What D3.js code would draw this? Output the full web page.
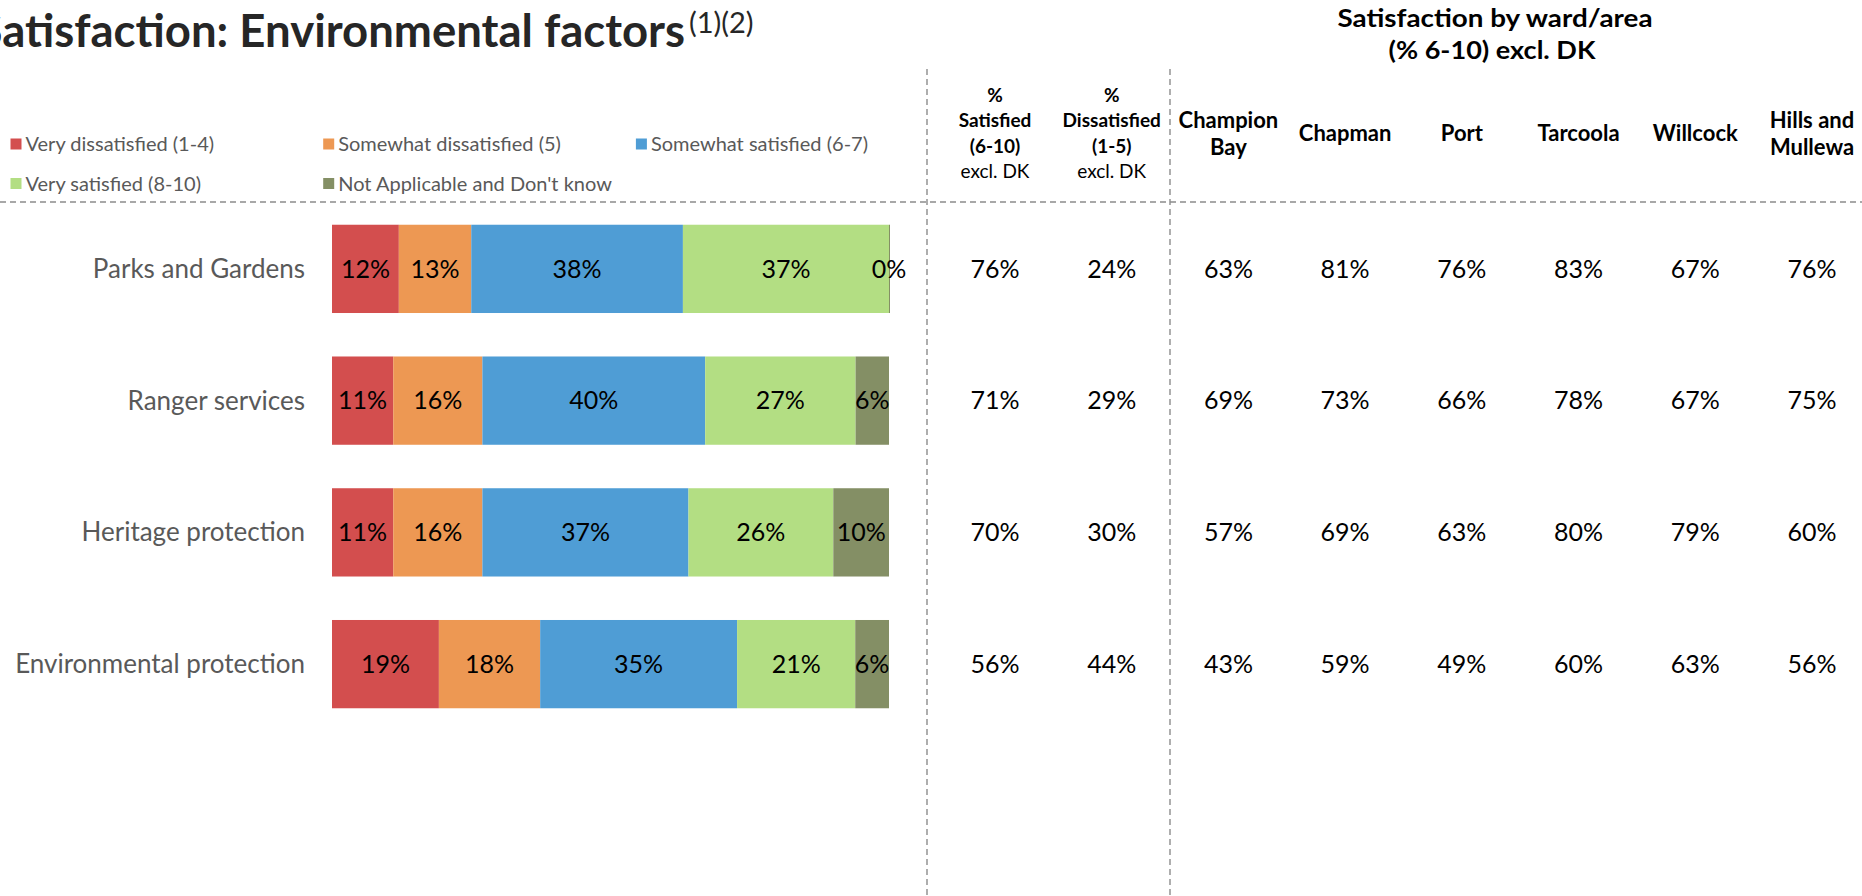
<!DOCTYPE html>
<html>
<head>
<meta charset="utf-8">
<script src="https://cdn.jsdelivr.net/npm/d3@7"></script>
<style>
  html, body { margin: 0; padding: 0; background: #fff; overflow: hidden; }
  text { font-family: Lato, "Open Sans", sans-serif; }
</style>
</head>
<body>
<svg id="chart" width="1862" height="896"></svg>
<script>
// categories (bars, top to bottom)
const categories = ['Parks and Gardens', 'Ranger services', 'Heritage protection', 'Environmental protection'];

// stacked bar series, % of respondents
const seriesNames = ['Very dissatisfied (1-4)', 'Somewhat dissatisfied (5)', 'Somewhat satisfied (6-7)', 'Very satisfied (8-10)', "Not Applicable and Don't know"];
const veryDissatisfied = [12, 11, 11, 19];
const somewhatDissatisfied = [13, 16, 16, 18];
const somewhatSatisfied = [38, 40, 37, 35];
const verySatisfied = [37, 27, 26, 21];
const notApplicable = [0, 6, 10, 6];
const seriesColors = ['#d34e4e', '#ed9853', '#4f9dd5', '#b3de83', '#848f65'];

// table columns
const pctSatisfied = [76, 71, 70, 56];
const pctDissatisfied = [24, 29, 30, 44];
const wardNames = ['Champion Bay', 'Chapman', 'Port', 'Tarcoola', 'Willcock', 'Hills and Mullewa'];
const championBay = [63, 69, 57, 43];
const chapman = [81, 73, 69, 59];
const port = [76, 66, 63, 49];
const tarcoola = [83, 78, 80, 60];
const willcock = [67, 67, 79, 63];
const hillsMullewa = [76, 75, 60, 56];

const W = 1862, H = 896;
const svg = d3.select('#chart');

// ---- build tables
const seriesArrays = [veryDissatisfied, somewhatDissatisfied, somewhatSatisfied, verySatisfied, notApplicable];
const rows = categories.map(function(c, i) {
  const r = { category: c };
  seriesNames.forEach(function(s, j) { r[s] = seriesArrays[j][i]; });
  return r;
});
const stacked = d3.stack().keys(seriesNames).offset(d3.stackOffsetExpand)(rows);

const columns = [
  { key: 'sat', head: [['%', 'bold'], ['Satisfied', 'bold'], ['(6-10)', 'bold'], ['excl. DK', 'normal']], values: pctSatisfied },
  { key: 'dis', head: [['%', 'bold'], ['Dissatisfied', 'bold'], ['(1-5)', 'bold'], ['excl. DK', 'normal']], values: pctDissatisfied }
];
[championBay, chapman, port, tarcoola, willcock, hillsMullewa].forEach(function(v, i) {
  columns.push({ key: wardNames[i], ward: true, values: v });
});

// ---- scales
const x = d3.scaleLinear().domain([0, 1]).range([332, 889]);
const y = d3.scaleBand().domain(categories).range([203, 730]).paddingInner(0.33).paddingOuter(0.165);
const colX = d3.scalePoint().domain(columns.map(function(d) { return d.key; })).range([995, 1812]);
const color = d3.scaleOrdinal().domain(seriesNames).range(seriesColors);

// ---- title (left edge runs off the page, as in the source)
svg.append('text')
  .attr('x', 685).attr('y', 47)
  .attr('text-anchor', 'end')
  .style('font-size', '45.5px').style('font-weight', 'bold').style('fill', '#262626')
  .text('Satisfaction: Environmental factors');
svg.append('text')
  .attr('x', 689).attr('y', 33)
  .style('font-size', '29px').style('fill', '#262626')
  .text('(1)(2)');

// ---- legend
const legend = svg.append('g').selectAll('g').data(seriesNames).join('g')
  .attr('transform', function(d, i) { return 'translate(' + [10.5 + (i % 3) * 312.7, 144 + Math.floor(i / 3) * 39.5] + ')'; });
legend.append('rect')
  .attr('x', 0).attr('y', -5.5).attr('width', 11).attr('height', 11)
  .style('fill', function(d) { return color(d); });
legend.append('text')
  .attr('x', 15).attr('dy', '0.35em')
  .style('font-size', '20px').style('fill', '#595959')
  .text(function(d) { return d; });

// ---- dashed rules
const rule = { stroke: '#8c8c8c', width: 1.4, dash: '6,4' };
svg.append('line')
  .attr('x1', 0).attr('x2', W).attr('y1', 202).attr('y2', 202)
  .style('stroke', rule.stroke).style('stroke-width', rule.width).style('stroke-dasharray', rule.dash);
[927, 1170].forEach(function(px) {
  svg.append('line')
    .attr('x1', px).attr('x2', px).attr('y1', 69).attr('y2', H)
    .style('stroke', rule.stroke).style('stroke-width', rule.width).style('stroke-dasharray', rule.dash);
});

// ---- category labels
svg.append('g').selectAll('text').data(categories).join('text')
  .attr('x', 305)
  .attr('y', function(d) { return y(d) + y.bandwidth() / 2; })
  .attr('dy', '0.35em')
  .attr('text-anchor', 'end')
  .style('font-size', '26px').style('fill', '#595959')
  .text(function(d) { return d; });

// ---- bars
const layer = svg.append('g').selectAll('g').data(stacked).join('g')
  .style('fill', function(d) { return color(d.key); });
layer.selectAll('rect').data(function(d) { return d; }).join('rect')
  .attr('x', function(d) { return x(d[0]); })
  .attr('y', function(d) { return y(d.data.category); })
  .attr('width', function(d) { return Math.max(x(d[1]) - x(d[0]), 1); })
  .attr('height', y.bandwidth());

// bar labels
svg.append('g').selectAll('g').data(stacked).join('g')
  .selectAll('text').data(function(s) { return s.map(function(d) { return { d: d, key: s.key }; }); }).join('text')
  .attr('x', function(o) { return (x(o.d[0]) + x(o.d[1])) / 2; })
  .attr('y', function(o) { return y(o.d.data.category) + y.bandwidth() / 2; })
  .attr('dy', '0.35em')
  .attr('text-anchor', 'middle')
  .style('font-size', '25px').style('fill', '#000')
  .text(function(o) { return o.d.data[o.key] + '%'; });

// ---- right-hand table
svg.append('text')
  .attr('x', 1495).attr('y', 27)
  .attr('text-anchor', 'middle')
  .attr('textLength', 315).attr('lengthAdjust', 'spacingAndGlyphs')
  .style('font-size', '24px').style('font-weight', 'bold').style('fill', '#000')
  .text('Satisfaction by ward/area');
svg.append('text')
  .attr('x', 1492).attr('y', 59)
  .attr('text-anchor', 'middle')
  .attr('textLength', 207).attr('lengthAdjust', 'spacingAndGlyphs')
  .style('font-size', '24px').style('font-weight', 'bold').style('fill', '#000')
  .text('(% 6-10) excl. DK');

const heads = svg.append('g').selectAll('text').data(columns).join('text')
  .attr('text-anchor', 'middle')
  .style('fill', '#000');
heads.filter(function(d) { return !d.ward; }).each(function(d) {
  const t = d3.select(this);
  d.head.forEach(function(h, i) {
    t.append('tspan')
      .attr('x', colX(d.key)).attr('y', 102 + i * 25.3)
      .style('font-size', '19px').style('font-weight', h[1])
      .text(h[0]);
  });
});
heads.filter(function(d) { return d.ward; }).each(function(d) {
  const t = d3.select(this);
  const words = d.key.split(' ');
  const lines = words.length <= 2 ? words : [words.slice(0, 2).join(' '), words.slice(2).join(' ')];
  const y0 = 141 - (lines.length - 1) * 13.5;
  lines.forEach(function(l, i) {
    t.append('tspan')
      .attr('x', colX(d.key)).attr('y', y0 + i * 27)
      .style('font-size', '22px').style('font-weight', 'bold')
      .text(l);
  });
});

columns.forEach(function(col) {
  svg.append('g').selectAll('text').data(col.values).join('text')
    .attr('x', colX(col.key))
    .attr('y', function(d, i) { return y(categories[i]) + y.bandwidth() / 2; })
    .attr('dy', '0.35em')
    .attr('text-anchor', 'middle')
    .style('font-size', '25px').style('fill', '#000')
    .text(function(d) { return d + '%'; });
});
</script>
</body>
</html>
